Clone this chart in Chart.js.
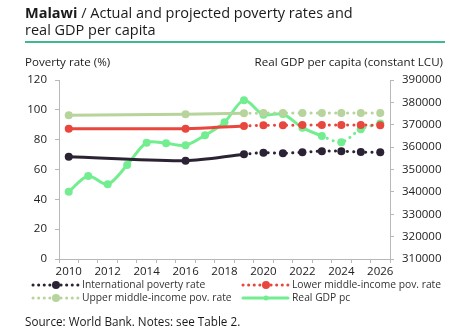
<!DOCTYPE html>
<html>
<head>
<meta charset="utf-8">
<script src="https://cdn.jsdelivr.net/npm/chart.js@4.4.1/dist/chart.umd.min.js"></script>
<style>
  body { margin: 0; background: #fff; font-family: "Open Sans", sans-serif; color: #1a1a1a; }
  #wrap { position: relative; width: 460px; height: 333px; overflow: hidden; }
  #chart { position: absolute; left: 0; top: 0; }
  .t { position: absolute; white-space: nowrap; }
  #title { left: 25px; top: 4px; font-size: 14.5px; line-height: 17px; }
  #rule { position: absolute; left: 25px; top: 41px; width: 420px; height: 2px; background: #3dbb8c; }
  #ylab { left: 25px; top: 54px; font-size: 11.6px; }
  #y2lab { right: 17px; top: 54px; font-size: 11.6px; }
  #src { left: 25px; top: 313px; font-size: 11.7px; }
</style>
</head>
<body>
<div id="wrap">
  <canvas id="chart" width="460" height="333"></canvas>
  <div class="t" id="title"><b>Malawi</b> / Actual and projected poverty rates and<br>real GDP per capita</div>
  <div id="rule"></div>
  <div class="t" id="ylab">Poverty rate (%)</div>
  <div class="t" id="y2lab">Real GDP per capita (constant LCU)</div>
  <div class="t" id="src">Source: World Bank. Notes: see Table 2.</div>
</div>
<script>
// years on the x axis
const years = ['2010','2011','2012','2013','2014','2015','2016','2017','2018','2019',
               '2020','2021','2022','2023','2024','2025','2026'];

// poverty rates (%), only survey years + projections
const intlPov  = [68.6, null, null, null, null, null, 65.9, null, null, 70.2, 71.3, 70.9, 71.6, 72.3, 72.3, 71.7, 71.5];
const lowerPov = [87.4, null, null, null, null, null, 87.4, null, null, 89.2, 89.6, 89.6, 89.8, 89.8, 89.8, 89.8, 89.6];
const upperPov = [96.3, null, null, null, null, null, 97.0, null, null, 97.7, 97.8, 97.8, 97.8, 97.8, 97.8, 97.8, 97.8];

// real GDP per capita (constant LCU)
const gdpPc = [340100, 347100, 343400, 352000, 362000, 361700, 360800, 365300, 371100,
               381000, 374500, 374800, 368700, 365000, 362200, 368000, 370600];

const leftTicks = [0, 20, 40, 60, 80, 100, 120];
const rightTicks = [310000, 320000, 330000, 340000, 350000, 360000, 370000, 380000, 390000];

const colIntl = '#2b2233';
const colLower = '#e8473d';
const colUpper = '#b6d49c';
const colGdp = '#72ee90';
const axisCol = '#b8b8b8';
const dotDash = [0.1, 6];

// dotted after the last actual year
function projDash(lastIdx) {
  return ctx => ctx.p0DataIndex >= lastIdx ? dotDash : undefined;
}

const legendItems = [
  { label: 'International poverty rate', color: colIntl, dotted: true, x: 32, y: 285 },
  { label: 'Lower middle-income pov. rate', color: colLower, dotted: true, x: 242, y: 285 },
  { label: 'Upper middle-income pov. rate', color: colUpper, dotted: true, x: 32, y: 298 },
  { label: 'Real GDP pc', color: colGdp, dotted: false, x: 242, y: 298 }
];

const legendPlugin = {
  id: 'fixedLegend',
  afterDraw: chart => {
    const ctx = chart.ctx;
    ctx.save();
    legendItems.forEach(it => {
      ctx.strokeStyle = it.color;
      ctx.lineWidth = 3;
      ctx.lineCap = 'round';
      ctx.setLineDash(it.dotted ? [0.1, 5.5] : []);
      ctx.beginPath();
      ctx.moveTo(it.x + 1, it.y);
      ctx.lineTo(it.x + 46, it.y);
      ctx.stroke();
      ctx.setLineDash([]);
      ctx.fillStyle = it.color;
      ctx.beginPath();
      ctx.arc(it.x + 24, it.y, it.dotted ? 4 : 2.5, 0, Math.PI * 2);
      ctx.fill();
      ctx.fillStyle = '#333';
      ctx.font = '10.3px "Open Sans"';
      ctx.textBaseline = 'middle';
      ctx.fillText(it.label, it.x + 50, it.y);
    });
    ctx.restore();
  }
};

function povSet(label, data, color) {
  return {
    label: label,
    data: data,
    yAxisID: 'y',
    borderColor: color,
    backgroundColor: color,
    borderWidth: 3,
    borderCapStyle: 'round',
    pointRadius: 4,
    pointHoverRadius: 4,
    pointBorderWidth: 0,
    tension: 0.3,
    spanGaps: true,
    segment: { borderDash: projDash(9) }
  };
}

new Chart(document.getElementById('chart'), {
  type: 'line',
  data: {
    labels: years,
    datasets: [
      povSet('Upper middle-income pov. rate', upperPov, colUpper),
      povSet('Lower middle-income pov. rate', lowerPov, colLower),
      povSet('International poverty rate', intlPov, colIntl),
      {
        label: 'Real GDP pc',
        data: gdpPc,
        yAxisID: 'y2',
        borderColor: colGdp,
        backgroundColor: colGdp,
        borderWidth: 3,
        borderCapStyle: 'round',
        pointRadius: 4,
        pointHoverRadius: 4,
        pointBorderWidth: 0,
        tension: 0.3,
        segment: { borderDash: projDash(13) }
      }
    ]
  },
  options: {
    responsive: false,
    animation: false,
    layout: { padding: { left: 0, right: 0, top: 80, bottom: 0 } },
    plugins: { legend: { display: false }, tooltip: { enabled: false } },
    scales: {
      x: {
        type: 'category',
        offset: true,
        afterFit: s => { s.height = 74; },
        border: { color: axisCol, width: 1 },
        grid: { offset: true, drawOnChartArea: false, drawTicks: true, tickLength: 4, color: axisCol },
        ticks: {
          autoSkip: false, maxRotation: 0, padding: 2, color: '#222',
          font: { family: 'Open Sans', size: 11.5 },
          callback: function(v, i) { return i % 2 === 0 ? this.getLabelForValue(v) : ''; }
        }
      },
      y: {
        position: 'left',
        min: 0, max: 120,
        afterFit: s => { s.width = 59; },
        afterBuildTicks: s => { s.ticks = leftTicks.map(v => ({ value: v })); },
        border: { color: axisCol, width: 1 },
        grid: { drawOnChartArea: false, tickLength: 4, color: axisCol },
        ticks: { padding: 8, color: '#222', font: { family: 'Open Sans', size: 11.5 } }
      },
      y2: {
        position: 'right',
        min: 310000, max: 390000,
        afterFit: s => { s.width = 70; },
        afterBuildTicks: s => { s.ticks = rightTicks.map(v => ({ value: v })); },
        border: { color: axisCol, width: 1 },
        grid: { drawOnChartArea: false, tickLength: 4, color: axisCol },
        ticks: {
          padding: 8, color: '#222', font: { family: 'Open Sans', size: 11.5 },
          callback: v => String(v)
        }
      }
    }
  },
  plugins: [legendPlugin]
});
</script>
</body>
</html>
